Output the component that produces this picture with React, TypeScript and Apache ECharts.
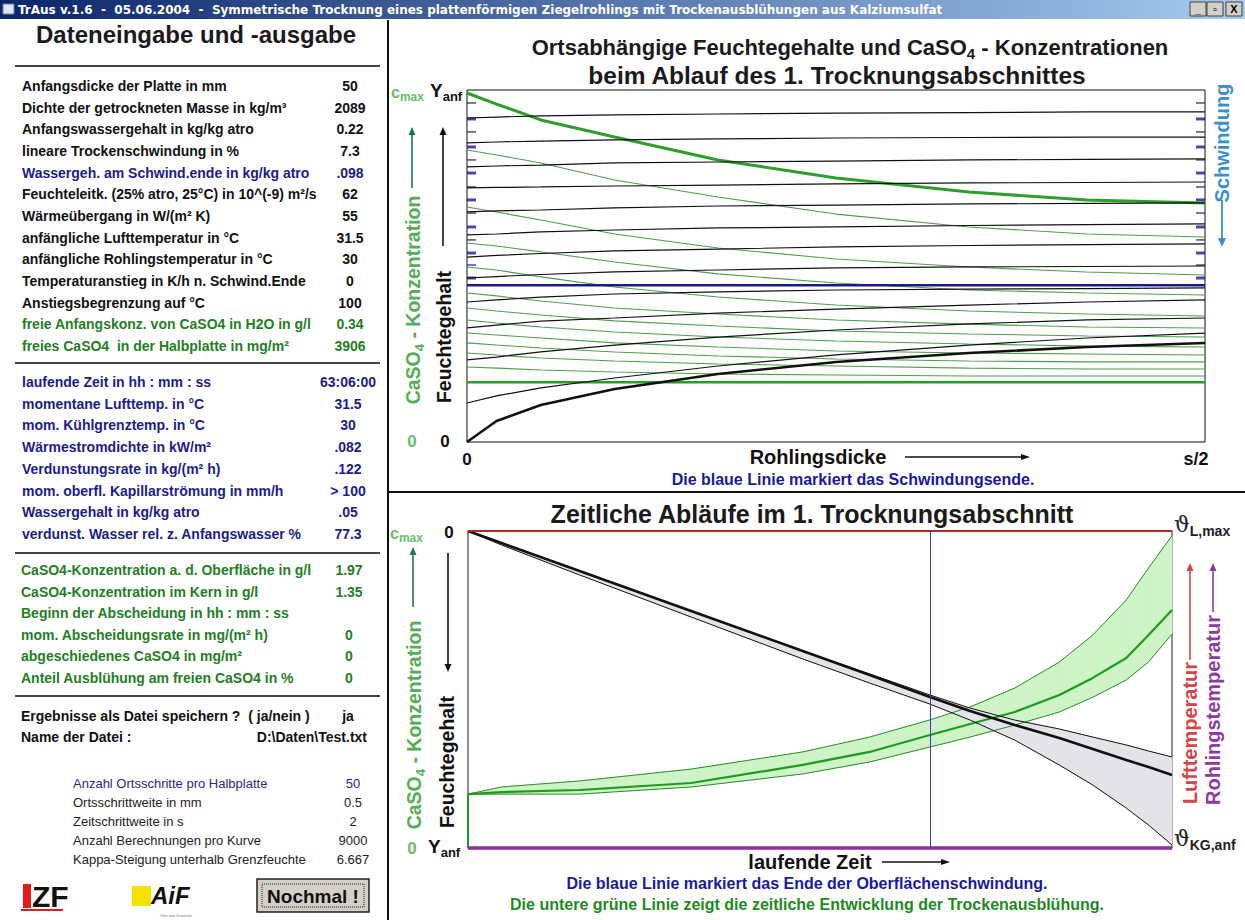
import React, { useEffect, useRef } from 'react';
import * as echarts from 'echarts';

const FONT = "'Liberation Sans', Arial, Helvetica, sans-serif";

// ===== Top chart: profiles over the half thickness (mm) =====
const profileX = [0, 1, 2.5, 5, 8.5, 12.5, 17, 21, 25];
// moisture content profiles in kg/kg atro (black)
const moistureProfiles = [
  [0.2025, 0.2031, 0.2038, 0.2044, 0.205, 0.2056, 0.2059, 0.2063, 0.2063],
  [0.1869, 0.1875, 0.1881, 0.1888, 0.1894, 0.19, 0.1903, 0.1906, 0.1906],
  [0.1719, 0.1725, 0.1731, 0.1744, 0.175, 0.1756, 0.1763, 0.1766, 0.1769],
  [0.1588, 0.1591, 0.1594, 0.16, 0.1606, 0.1613, 0.1619, 0.1622, 0.1625],
  [0.1438, 0.1444, 0.145, 0.1463, 0.1475, 0.1481, 0.1488, 0.1491, 0.1494],
  [0.1294, 0.13, 0.1313, 0.1325, 0.1338, 0.1344, 0.1353, 0.1359, 0.1363],
  [0.1156, 0.1166, 0.1178, 0.1194, 0.1206, 0.1219, 0.1228, 0.1234, 0.1238],
  [0.1025, 0.1034, 0.1047, 0.1063, 0.1075, 0.1088, 0.1094, 0.1097, 0.11],
  [0.0875, 0.0888, 0.0906, 0.0925, 0.0938, 0.095, 0.0956, 0.0959, 0.0963],
  [0.0713, 0.0731, 0.0756, 0.0775, 0.0806, 0.0831, 0.0856, 0.0875, 0.0888],
  [0.0513, 0.0531, 0.0563, 0.0606, 0.0656, 0.07, 0.0738, 0.0763, 0.0775],
  [0.0244, 0.0288, 0.0338, 0.04, 0.0475, 0.0544, 0.0606, 0.065, 0.0681],
  [0.0, 0.0131, 0.0231, 0.0331, 0.0425, 0.05, 0.0556, 0.0594, 0.0619],
];
// CaSO4 concentration profiles in g/l (green), newest first
const concProfiles = [
  [1.983, 1.92, 1.83, 1.733, 1.602, 1.5, 1.42, 1.375, 1.358],
  [1.659, 1.631, 1.585, 1.489, 1.392, 1.295, 1.222, 1.182, 1.165],
  [1.335, 1.307, 1.261, 1.182, 1.102, 1.04, 0.994, 0.966, 0.949],
  [1.131, 1.114, 1.08, 1.023, 0.955, 0.903, 0.864, 0.847, 0.835],
  [0.994, 0.977, 0.938, 0.881, 0.824, 0.778, 0.744, 0.727, 0.716],
  [0.847, 0.83, 0.801, 0.761, 0.727, 0.693, 0.67, 0.653, 0.648],
  [0.761, 0.744, 0.722, 0.688, 0.659, 0.631, 0.614, 0.602, 0.597],
  [0.693, 0.676, 0.653, 0.625, 0.597, 0.574, 0.557, 0.545, 0.54],
  [0.619, 0.608, 0.591, 0.563, 0.54, 0.517, 0.506, 0.5, 0.494],
  [0.563, 0.551, 0.534, 0.511, 0.489, 0.472, 0.46, 0.455, 0.455],
  [0.506, 0.494, 0.477, 0.46, 0.443, 0.432, 0.42, 0.415, 0.415],
  [0.426, 0.42, 0.409, 0.398, 0.386, 0.381, 0.375, 0.375, 0.375],
];
const initialConc = [0.34, 0.34, 0.34, 0.34, 0.34, 0.34, 0.34, 0.34, 0.34];
const shrinkEndMoisture = 0.098;
const shrinkMarks = [0.2119, 0.2019, 0.1938, 0.1844, 0.1763, 0.1681, 0.1594, 0.1513, 0.1431, 0.1344, 0.1263, 0.1181, 0.1106, 0.1025];

// ===== Bottom chart: time courses (hours) =====
const timeH = [0, 3, 10, 20, 30, 36, 41.4, 45, 49, 53, 56, 59, 61, 63.1];
const evapMean = [0, 0.0083, 0.0278, 0.0555, 0.0833, 0.0999, 0.1152, 0.1249, 0.1346, 0.1437, 0.1513, 0.159, 0.1638, 0.1694];
const evapLow = [0, 0.0083, 0.0278, 0.0555, 0.0833, 0.0992, 0.1138, 0.1229, 0.1312, 0.1374, 0.143, 0.1485, 0.1527, 0.1568];
const evapHigh = [0, 0.0097, 0.0305, 0.0597, 0.0888, 0.1055, 0.1201, 0.1312, 0.1451, 0.1624, 0.1763, 0.1923, 0.2041, 0.2179];
const concSurface = [0.34, 0.385, 0.423, 0.498, 0.606, 0.7, 0.808, 0.89, 1.009, 1.173, 1.344, 1.565, 1.767, 1.97];
const concMean = [0.34, 0.353, 0.366, 0.41, 0.524, 0.606, 0.713, 0.782, 0.858, 0.965, 1.073, 1.199, 1.344, 1.502];
const concCore = [0.34, 0.34, 0.34, 0.385, 0.467, 0.543, 0.637, 0.7, 0.776, 0.858, 0.951, 1.06, 1.174, 1.35];
const shrinkEndTime = 41.4;
const tempTimes = [0, 63.1];
const airTemp = [31.5, 31.5];
const blankTemp = [30, 30];

// ===== Left panel texts =====
const inputLabels = [
  'Anfangsdicke der Platte in mm', 'Dichte der getrockneten Masse in kg/m³', 'Anfangswassergehalt in kg/kg atro',
  'lineare Trockenschwindung in %', 'Wassergeh. am Schwind.ende in kg/kg atro', 'Feuchteleitk. (25% atro, 25°C) in 10^(-9) m²/s',
  'Wärmeübergang in W/(m² K)', 'anfängliche Lufttemperatur in °C', 'anfängliche Rohlingstemperatur in °C',
  'Temperaturanstieg in K/h n. Schwind.Ende', 'Anstiegsbegrenzung auf °C', 'freie Anfangskonz. von CaSO4 in H2O in g/l',
  'freies CaSO4  in der Halbplatte in mg/m²',
];
const inputValues = ['50', '2089', '0.22', '7.3', '.098', '62', '55', '31.5', '30', '0', '100', '0.34', '3906'];
const inputColors = ['k', 'k', 'k', 'k', 'b', 'k', 'k', 'k', 'k', 'k', 'k', 'g', 'g'];
const outputLabels = [
  'laufende Zeit in hh : mm : ss', 'momentane Lufttemp. in °C', 'mom. Kühlgrenztemp. in °C', 'Wärmestromdichte in kW/m²',
  'Verdunstungsrate in kg/(m² h)', 'mom. oberfl. Kapillarströmung in mm/h', 'Wassergehalt in kg/kg atro',
  'verdunst. Wasser rel. z. Anfangswasser %',
];
const outputValues = ['63:06:00', '31.5', '30', '.082', '.122', '> 100', '.05', '77.3'];
const saltLabels = [
  'CaSO4-Konzentration a. d. Oberfläche in g/l', 'CaSO4-Konzentration im Kern in g/l', 'Beginn der Abscheidung in hh : mm : ss',
  'mom. Abscheidungsrate in mg/(m² h)', 'abgeschiedenes CaSO4 in mg/m²', 'Anteil Ausblühung am freien CaSO4 in %',
];
const saltValues = ['1.97', '1.35', '', '0', '0', '0'];
const numLabels = ['Anzahl Ortsschritte pro Halbplatte', 'Ortsschrittweite in mm', 'Zeitschrittweite in s', 'Anzahl Berechnungen pro Kurve', 'Kappa-Steigung unterhalb Grenzfeuchte'];
const numValues = ['50', '0.5', '2', '9000', '6.667'];

const C_K = '#111111';
const C_B = '#1c1c8e';
const C_G = '#1f7f24';
const C_LG = '#55ad55';
const ROW = 14;

const colorOf = (c: string) => (c === 'b' ? C_B : c === 'g' ? C_G : C_K);

function T(x: number, y: number, text: string, o: any = {}) {
  return {
    type: 'text', x, y, rotation: o.rotation || 0, z: 100, silent: true,
    style: {
      text, fill: o.color || C_K,
      fontFamily: o.family || FONT, fontSize: o.size || ROW, fontWeight: o.weight || 'bold',
      fontStyle: o.style || 'normal',
      align: o.align || 'left', verticalAlign: o.va || 'middle',
    },
  };
}

function subText(x: number, y: number, parts: [string, string, string], size: number, subSize: number, color: string, o: any = {}) {
  const fam = o.family || FONT;
  return {
    type: 'text', x, y, rotation: o.rotation || 0, z: 100, silent: true,
    style: {
      text: `{a|${parts[0]}}{s|${parts[1]}}` + (parts[2] ? `{a|${parts[2]}}` : ''),
      align: o.align || 'left', verticalAlign: 'middle', fill: color,
      rich: {
        a: { fontSize: size, fontWeight: o.weight || 'bold', fontFamily: fam, fill: color, lineHeight: size + 6, verticalAlign: 'middle' },
        s: { fontSize: subSize, fontWeight: 'bold', fontFamily: FONT, fill: o.subColor || color, lineHeight: subSize + 1, verticalAlign: 'bottom' },
      },
    },
  };
}

function arrow(x1: number, y1: number, x2: number, y2: number, color: string, w = 1.6, head = 8, hw = 3.5) {
  const dx = x2 - x1, dy = y2 - y1, L = Math.hypot(dx, dy), ux = dx / L, uy = dy / L;
  const bx = x2 - ux * head, by = y2 - uy * head;
  return [
    { type: 'line', silent: true, z: 100, shape: { x1, y1, x2: bx, y2: by }, style: { stroke: color, lineWidth: w } },
    { type: 'polygon', silent: true, z: 100, shape: { points: [[x2, y2], [bx - uy * hw, by + ux * hw], [bx + uy * hw, by - ux * hw]] }, style: { fill: color } },
  ];
}

function hline(x1: number, x2: number, y: number, color = '#333', w = 2) {
  return { type: 'line', silent: true, z: 100, shape: { x1, y1: y, x2, y2: y }, style: { stroke: color, lineWidth: w } };
}

function buildGraphics() {
  const els: any[] = [];
  // title bar
  els.push({
    type: 'rect', silent: true, z: 90, shape: { x: 0, y: 0, width: 1245, height: 19 },
    style: { fill: new echarts.graphic.LinearGradient(0, 0, 1, 0, [{ offset: 0, color: '#0a246a' }, { offset: 1, color: '#a6caf0' }]) },
  });
  els.push({ type: 'rect', silent: true, z: 95, shape: { x: 3, y: 4, width: 11, height: 10 }, style: { fill: '#dfe6f0', stroke: '#6a7a9a', lineWidth: 1 } });
  els.push(T(18, 10, 'TrAus v.1.6  -  05.06.2004  -  Symmetrische Trocknung eines plattenförmigen Ziegelrohlings mit Trockenausblühungen aus Kalziumsulfat', { color: '#ffffff', size: 12, family: "'DejaVu Sans', sans-serif" }));
  const bx = [1190, 1207, 1226];
  const glyph = ['_', '▫', 'X'];
  bx.forEach((x, i) => {
    els.push({ type: 'rect', silent: true, z: 95, shape: { x, y: 2, width: 16, height: 14 }, style: { fill: '#d4d0c8', stroke: '#404040', lineWidth: 1 } });
    els.push(T(x + 8, 9, glyph[i], { align: 'center', size: 11, color: '#000' }));
  });

  // separators
  els.push({ type: 'line', silent: true, z: 100, shape: { x1: 388, y1: 20, x2: 388, y2: 920 }, style: { stroke: '#111', lineWidth: 2 } });
  els.push(hline(389, 1245, 492, '#111', 2));
  els.push(hline(15, 380, 66, '#444', 2));
  els.push(hline(15, 380, 363, '#444', 2));
  els.push(hline(15, 380, 553, '#444', 2));
  els.push(hline(15, 380, 696, '#444', 2));

  // left panel
  els.push(T(196, 34, 'Dateneingabe und -ausgabe', { align: 'center', size: 24, color: '#1a1a1a' }));
  inputLabels.forEach((l, i) => {
    const y = 86 + i * 21.67;
    els.push(T(22, y, l, { color: colorOf(inputColors[i]) }));
    els.push(T(350, y, inputValues[i], { color: colorOf(inputColors[i]), align: 'center' }));
  });
  outputLabels.forEach((l, i) => {
    const y = 382 + i * 21.7;
    els.push(T(22, y, l, { color: C_B }));
    els.push(T(348, y, outputValues[i], { color: C_B, align: 'center' }));
  });
  saltLabels.forEach((l, i) => {
    const y = 570 + i * 21.6;
    els.push(T(21, y, l, { color: C_G }));
    if (saltValues[i]) els.push(T(349, y, saltValues[i], { color: C_G, align: 'center' }));
  });
  els.push(T(21, 716, 'Ergebnisse als Datei speichern ?  ( ja/nein )'));
  els.push(T(348, 716, 'ja', { align: 'center' }));
  els.push(T(21, 737, 'Name der Datei :'));
  els.push(T(367, 737, 'D:\\Daten\\Test.txt', { align: 'right' }));
  numLabels.forEach((l, i) => {
    const y = 783 + i * 19.2;
    const c = i === 0 ? '#2a2a8a' : '#222';
    els.push(T(73, y, l, { weight: 'normal', size: 13, color: c }));
    els.push(T(353, y, numValues[i], { weight: 'normal', size: 13, color: c, align: 'center' }));
  });
  // logos
  els.push({ type: 'rect', silent: true, z: 100, shape: { x: 23, y: 884, width: 8, height: 24 }, style: { fill: '#e31b1b' } });
  els.push(T(32, 896, 'ZF', { size: 30, family: "'Liberation Sans Narrow', 'Liberation Sans', sans-serif", color: '#111' }));
  els.push({ type: 'rect', silent: true, z: 100, shape: { x: 21, y: 909, width: 42, height: 2 }, style: { fill: '#e31b1b' } });
  els.push({ type: 'rect', silent: true, z: 100, shape: { x: 132, y: 886, width: 19, height: 20 }, style: { fill: '#f4e200' } });
  els.push(T(151, 895, 'AiF', { size: 24, style: 'italic', color: '#111' }));
  els.push(T(176, 915, 'Otto von Guericke', { size: 4, weight: 'normal', color: '#777', align: 'center' }));
  els.push({ type: 'rect', silent: true, z: 100, shape: { x: 257, y: 879, width: 112, height: 33 }, style: { fill: '#d4d0c8', stroke: '#222', lineWidth: 1.5 } });
  els.push({ type: 'rect', silent: true, z: 100, shape: { x: 262, y: 884, width: 102, height: 23 }, style: { fill: 'none', stroke: '#222', lineWidth: 1, lineDash: [1, 1] } });
  els.push(T(313, 896, 'Nochmal !', { size: 19, align: 'center' }));

  // ---------- top chart decorations ----------
  els.push(subText(850, 47, ['Ortsabhängige Feuchtegehalte und CaSO', '4', ' - Konzentrationen'], 22, 15, '#1a1a1a', { align: 'center' }));
  els.push(T(837, 75, 'beim Ablauf des 1. Trocknungsabschnittes', { align: 'center', size: 24.5, color: '#1a1a1a' }));
  els.push(subText(391, 92, ['c', 'max', ''], 16, 12, '#6cbc6c'));
  els.push(subText(430, 90, ['Y', 'anf', ''], 19, 13, '#111'));
  els.push(...arrow(412, 188, 412, 127, '#1a7a48'));
  els.push(...arrow(443, 246, 443, 127, '#111'));
  els.push(subText(413, 300, ['CaSO', '4', ' - Konzentration'], 19.5, 13, C_LG, { align: 'center', rotation: Math.PI / 2 }));
  els.push(T(444, 337, 'Feuchtegehalt', { align: 'center', size: 19.5, rotation: Math.PI / 2 }));
  els.push(T(412, 441, '0', { align: 'center', size: 17, color: '#6cbc6c' }));
  els.push(T(445, 441, '0', { align: 'center', size: 17 }));
  els.push(T(467, 459, '0', { align: 'center', size: 17 }));
  els.push(T(818, 457, 'Rohlingsdicke', { align: 'center', size: 20 }));
  els.push(...arrow(905, 457, 1030, 457, '#111', 1.5, 9, 3));
  els.push(T(1196, 459, 's/2', { align: 'center', size: 18 }));
  els.push(T(853, 479, 'Die blaue Linie markiert das Schwindungsende.', { align: 'center', size: 16, color: '#1a1aa0' }));
  els.push(T(1222, 143, 'Schwindung', { align: 'center', size: 20, color: '#3a8fd0', rotation: Math.PI / 2 }));
  els.push(...arrow(1222, 200, 1222, 247, '#3a8fd0', 1.8, 9, 4));

  // ---------- bottom chart decorations ----------
  els.push(T(812, 514, 'Zeitliche Abläufe im 1. Trocknungsabschnitt', { align: 'center', size: 25, color: '#1a1a1a' }));
  els.push(subText(390, 533, ['c', 'max', ''], 16, 12, '#6cbc6c'));
  els.push(T(449, 532, '0', { align: 'center', size: 17 }));
  els.push(...arrow(413, 607, 413, 547, '#1a7a48'));
  els.push(...arrow(448, 553, 448, 672, '#111'));
  els.push(subText(414, 725, ['CaSO', '4', ' - Konzentration'], 19.5, 13, C_LG, { align: 'center', rotation: Math.PI / 2 }));
  els.push(T(447, 762, 'Feuchtegehalt', { align: 'center', size: 19.5, rotation: Math.PI / 2 }));
  els.push(T(412, 848, '0', { align: 'center', size: 17, color: '#6cbc6c' }));
  els.push(subText(428, 846, ['Y', 'anf', ''], 19, 13, '#111'));
  els.push(subText(1174, 524, ['ϑ', 'L,max', ''], 22, 14, '#222', { family: "'DejaVu Serif', serif", weight: 'normal' }));
  els.push(subText(1174, 838, ['ϑ', 'KG,anf', ''], 22, 14, '#222', { family: "'DejaVu Serif', serif", weight: 'normal' }));
  els.push(...arrow(1190, 660, 1190, 563, '#d64545'));
  els.push(...arrow(1213, 612, 1213, 563, '#8e3a9e'));
  els.push(T(1190, 733, 'Lufttemperatur', { align: 'center', size: 20, color: '#d64545', rotation: Math.PI / 2 }));
  els.push(T(1213, 710, 'Rohlingstemperatur', { align: 'center', size: 20, color: '#8e3a9e', rotation: Math.PI / 2 }));
  els.push(T(810, 862, 'laufende Zeit', { align: 'center', size: 20 }));
  els.push(...arrow(882, 862, 950, 862, '#111', 1.5, 9, 3));
  els.push(T(807, 883, 'Die blaue Linie markiert das Ende der Oberflächenschwindung.', { align: 'center', size: 16, color: '#1a1aa0' }));
  els.push(T(807, 904, 'Die untere grüne Linie zeigt die zeitliche Entwicklung der Trockenausblühung.', { align: 'center', size: 16, color: '#1e8a1e' }));
  return els;
}

function band(yAxisIndex: number, low: number[], high: number[], color: string) {
  const data = timeH.slice(0, -1).map((t, i) => [t, low[i], high[i], timeH[i + 1], low[i + 1], high[i + 1]]);
  return {
    type: 'custom', silent: true, xAxisIndex: 1, yAxisIndex, coordinateSystem: 'cartesian2d',
    encode: { x: [0, 3], y: [1, 2, 4, 5] },
    data,
    renderItem: (_p: any, api: any) => {
      const a = api.coord([api.value(0), api.value(1)]);
      const b = api.coord([api.value(3), api.value(4)]);
      const c = api.coord([api.value(3), api.value(5)]);
      const d = api.coord([api.value(0), api.value(2)]);
      return { type: 'polygon', shape: { points: [a, b, c, d] }, style: { fill: color, stroke: color, lineWidth: 0.8 } };
    },
  };
}

function buildSeries() {
  const s: any[] = [];
  const base = { type: 'line', symbol: 'none', silent: true, animation: false };
  // top chart
  concProfiles.forEach((p, i) => {
    s.push({
      ...base, xAxisIndex: 0, yAxisIndex: 1,
      data: profileX.map((x, j) => [x, p[j]]),
      lineStyle: { color: i === 0 ? '#2e9e2e' : '#4d9f4d', width: i === 0 ? 3 : 1.1 },
    });
  });
  s.push({ ...base, xAxisIndex: 0, yAxisIndex: 1, data: profileX.map((x, j) => [x, initialConc[j]]), lineStyle: { color: '#22a022', width: 2.5 } });
  moistureProfiles.forEach((p, i) => {
    const last = i === moistureProfiles.length - 1;
    s.push({
      ...base, xAxisIndex: 0, yAxisIndex: 0,
      data: profileX.map((x, j) => [x, p[j]]),
      lineStyle: { color: '#111', width: last ? 2.6 : 1.2 },
    });
  });
  s.push({
    ...base, xAxisIndex: 0, yAxisIndex: 0,
    data: [[profileX[0], shrinkEndMoisture], [profileX[profileX.length - 1], shrinkEndMoisture]],
    lineStyle: { color: '#1a1a90', width: 2.6 },
  });
  const marksStyle = {
    type: 'scatter', silent: true, xAxisIndex: 0, yAxisIndex: 0, symbol: 'rect',
    symbolSize: (_v: any, p: any) => (p.dataIndex % 2 ? [9, 3] : [9, 1.5]),
    itemStyle: { color: '#1a1a90' },
  };
  s.push({ ...marksStyle, symbolOffset: [4.5, 0], data: shrinkMarks.map((v) => [profileX[0], v]) });
  s.push({ ...marksStyle, symbolOffset: [-4.5, 0], data: shrinkMarks.map((v) => [profileX[profileX.length - 1], v]) });

  // bottom chart bands
  s.push(band(3, concCore, concSurface, '#cdf3c6'));
  s.push(band(2, evapLow, evapHigh, '#e3e3e9'));
  s.push({ ...base, xAxisIndex: 1, yAxisIndex: 3, data: timeH.map((t, i) => [t, concSurface[i]]), lineStyle: { color: '#2c8a2c', width: 1 } });
  s.push({ ...base, xAxisIndex: 1, yAxisIndex: 3, data: timeH.map((t, i) => [t, concCore[i]]), lineStyle: { color: '#2c8a2c', width: 1 } });
  s.push({
    ...base, xAxisIndex: 1, yAxisIndex: 3, data: timeH.map((t, i) => [t, concMean[i]]), lineStyle: { color: '#1f9a1f', width: 2.2 },
    markLine: {
      silent: true, symbol: ['none', 'none'], label: { show: false },
      lineStyle: { color: '#3a3ab8', width: 1, type: 'solid' },
      data: [{ xAxis: shrinkEndTime }],
    },
  });
  s.push({ ...base, xAxisIndex: 1, yAxisIndex: 3, data: [[timeH[0], 0], [timeH[0], concMean[0]]], lineStyle: { color: '#1f9a1f', width: 2 }, clip: false });
  s.push({ ...base, xAxisIndex: 1, yAxisIndex: 2, data: timeH.map((t, i) => [t, evapLow[i]]), lineStyle: { color: '#111', width: 1 } });
  s.push({ ...base, xAxisIndex: 1, yAxisIndex: 2, data: timeH.map((t, i) => [t, evapHigh[i]]), lineStyle: { color: '#111', width: 1 } });
  s.push({ ...base, xAxisIndex: 1, yAxisIndex: 2, data: timeH.map((t, i) => [t, evapMean[i]]), lineStyle: { color: '#111', width: 2.6 } });
  s.push({ ...base, xAxisIndex: 1, yAxisIndex: 4, clip: false, data: tempTimes.map((t, i) => [t, airTemp[i]]), lineStyle: { color: '#b02a2a', width: 2 } });
  s.push({ ...base, xAxisIndex: 1, yAxisIndex: 4, clip: false, data: tempTimes.map((t, i) => [t, blankTemp[i]]), lineStyle: { color: '#8e2f9c', width: 3.5 } });
  return s;
}

export default function App() {
  const ref = useRef<HTMLDivElement>(null);
  useEffect(() => {
    if (!ref.current) return;
    const chart = echarts.init(ref.current, undefined, { renderer: 'svg' });
    const hidden = { show: false };
    const ax = (o: any) => ({ type: 'value', axisLine: hidden, axisTick: hidden, axisLabel: hidden, splitLine: hidden, ...o });
    chart.setOption({
      animation: false,
      backgroundColor: '#ffffff',
      grid: [
        { left: 467, top: 90, width: 738, height: 352, show: true, borderColor: '#111', borderWidth: 1, backgroundColor: '#fff' },
        { left: 468, top: 531, width: 704, height: 317, show: true, borderColor: '#444', borderWidth: 1.2, backgroundColor: '#fff' },
      ],
      xAxis: [
        ax({ gridIndex: 0, min: 0, max: 25 }),
        ax({ gridIndex: 1, min: 0, max: 63.1 }),
      ],
      yAxis: [
        ax({ gridIndex: 0, min: 0, max: 0.22 }),
        ax({ gridIndex: 0, min: 0, max: 2 }),
        ax({ gridIndex: 1, min: 0, max: 0.22, inverse: true }),
        ax({ gridIndex: 1, min: 0, max: 2 }),
        ax({ gridIndex: 1, min: 30, max: 31.5 }),
      ],
      series: buildSeries(),
      graphic: { elements: buildGraphics() },
    });
    return () => chart.dispose();
  }, []);
  return <div ref={ref} style={{ position: 'fixed', left: 0, top: 0, width: 1245, height: 920, background: '#fff' }} />;
}
